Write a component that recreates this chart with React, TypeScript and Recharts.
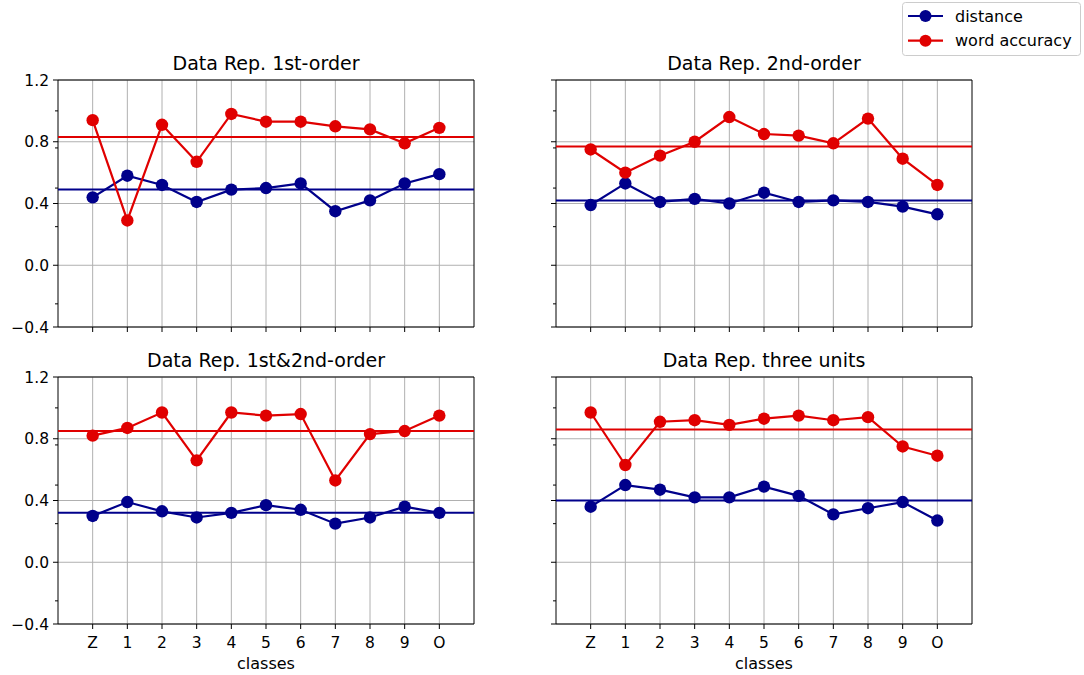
import { LineChart, Line, XAxis, YAxis, CartesianGrid, ReferenceLine, ReferenceArea } from "recharts";

const classes = ["Z", "1", "2", "3", "4", "5", "6", "7", "8", "9", "O"];

const titles = ["Data Rep. 1st-order", "Data Rep. 2nd-order", "Data Rep. 1st&2nd-order", "Data Rep. three units"];

const distance1st = [0.44, 0.58, 0.52, 0.41, 0.49, 0.5, 0.53, 0.35, 0.42, 0.53, 0.59];
const accuracy1st = [0.94, 0.29, 0.91, 0.67, 0.98, 0.93, 0.93, 0.9, 0.88, 0.79, 0.89];
const distance2nd = [0.39, 0.53, 0.41, 0.43, 0.4, 0.47, 0.41, 0.42, 0.41, 0.38, 0.33];
const accuracy2nd = [0.75, 0.6, 0.71, 0.8, 0.96, 0.85, 0.84, 0.79, 0.95, 0.69, 0.52];
const distanceBoth = [0.3, 0.39, 0.33, 0.29, 0.32, 0.37, 0.34, 0.25, 0.29, 0.36, 0.32];
const accuracyBoth = [0.82, 0.87, 0.97, 0.66, 0.97, 0.95, 0.96, 0.53, 0.83, 0.85, 0.95];
const distanceThree = [0.36, 0.5, 0.47, 0.42, 0.42, 0.49, 0.43, 0.31, 0.35, 0.39, 0.27];
const accuracyThree = [0.97, 0.63, 0.91, 0.92, 0.89, 0.93, 0.95, 0.92, 0.94, 0.75, 0.69];

const meanDistance = [0.49, 0.42, 0.32, 0.4];
const meanAccuracy = [0.83, 0.77, 0.85, 0.86];

const majorTicks = [-0.4, 0, 0.4, 0.8, 1.2];
const minorTicks = [-0.25, 0.25, 0.5, 0.76, 1.0];

const BLUE = "#00008b";
const RED = "#e00000";
const FONT = "'DejaVu Sans', sans-serif";

const PLOT_W = 416;
const PLOT_H = 247;
const Y_W = 50;

const fmt = (v: number) => v.toFixed(1).replace("-", "\u2212");

function YTick(props: any) {
  const { x, y, payload, showLabels } = props;
  const major = majorTicks.some((t) => Math.abs(t - payload.value) < 1e-6);
  return (
    <g>
      <line x1={x} x2={x - (major ? 5 : 3)} y1={y} y2={y} stroke="#000" strokeWidth={1} />
      {major && showLabels && (
        <text x={x - 9} y={y} dy={5.5} textAnchor="end" fontSize={15.5} fontFamily={FONT} fill="#000">
          {fmt(payload.value)}
        </text>
      )}
    </g>
  );
}

function XTick(props: any) {
  const { x, y, payload, showLabels } = props;
  return (
    <g>
      <line x1={x} x2={x} y1={y} y2={y + 5} stroke="#000" strokeWidth={1} />
      {showLabels && (
        <text x={x} y={y + 24} textAnchor="middle" fontSize={15.5} fontFamily={FONT} fill="#000">
          {classes[payload.value]}
        </text>
      )}
    </g>
  );
}

function Panel({ idx, left, top, distance, accuracy, xLabels, yLabels }: any) {
  const data = classes.map((c, i) => ({ i, name: c, distance: distance[i], accuracy: accuracy[i] }));
  return (
    <>
      <div
        style={{
          position: "absolute",
          left: left - 100,
          width: PLOT_W + 200,
          top: top - 26,
          textAlign: "center",
          fontFamily: FONT,
          fontSize: 19,
          lineHeight: "19px",
          color: "#000",
        }}
      >
        {titles[idx]}
      </div>
      <div style={{ position: "absolute", left: left - Y_W, top: top - 10 }}>
        <LineChart
          width={Y_W + PLOT_W + 10}
          height={10 + PLOT_H + 40}
          data={data}
          margin={{ top: 10, right: 10, bottom: 0, left: 0 }}
        >
          <CartesianGrid
            stroke="#b0b0b0"
            strokeWidth={1}
            horizontalValues={majorTicks}
            verticalValues={[0, 1, 2, 3, 4, 5, 6, 7, 8, 9, 10]}
          />
          <XAxis
            dataKey="i"
            type="number"
            domain={[-1, 11]}
            ticks={[0, 1, 2, 3, 4, 5, 6, 7, 8, 9, 10]}
            axisLine={false}
            tickLine={false}
            tickSize={0}
            tickMargin={0}
            height={40}
            interval={0}
            tick={<XTick showLabels={xLabels} />}
          />
          <YAxis
            type="number"
            domain={[-0.4, 1.2]}
            ticks={[...majorTicks, ...minorTicks].sort((a, b) => a - b)}
            axisLine={false}
            tickLine={false}
            tickSize={0}
            tickMargin={0}
            width={Y_W}
            interval={0}
            allowDataOverflow
            tick={<YTick showLabels={yLabels} />}
          />
          <ReferenceLine y={meanDistance[idx]} stroke={BLUE} strokeWidth={2} />
          <ReferenceLine y={meanAccuracy[idx]} stroke={RED} strokeWidth={2} />
          <Line
            dataKey="distance"
            stroke={BLUE}
            strokeWidth={2.2}
            dot={{ r: 6.2, fill: BLUE, stroke: BLUE, strokeWidth: 0 }}
            isAnimationActive={false}
          />
          <Line
            dataKey="accuracy"
            stroke={RED}
            strokeWidth={2.2}
            dot={{ r: 6.2, fill: RED, stroke: RED, strokeWidth: 0 }}
            isAnimationActive={false}
          />
          <ReferenceArea x1={-1} x2={11} y1={-0.4} y2={1.2} fill="none" stroke="#000" strokeWidth={1} strokeOpacity={1} />
        </LineChart>
      </div>
      {xLabels && (
        <div
          style={{
            position: "absolute",
            left,
            width: PLOT_W,
            top: top + PLOT_H + 32,
            textAlign: "center",
            fontFamily: FONT,
            fontSize: 16,
            lineHeight: "16px",
          }}
        >
          classes
        </div>
      )}
    </>
  );
}

function LegendBox() {
  const rows = [
    { label: "distance", color: BLUE },
    { label: "word accuracy", color: RED },
  ];
  return (
    <svg width={180} height={55} style={{ position: "absolute", left: 902, top: 2 }}>
      <rect x={0.5} y={0.5} width={178} height={53} rx={3} fill="#fff" stroke="#cccccc" />
      {rows.map((r, k) => (
        <g key={r.label} transform={`translate(0, ${14 + k * 24.7})`}>
          <line x1={6} x2={41} y1={0} y2={0} stroke={r.color} strokeWidth={2.2} />
          <circle cx={23.5} cy={0} r={6} fill={r.color} />
          <text x={53} y={5.5} fontSize={16} fontFamily={FONT} fill="#000">
            {r.label}
          </text>
        </g>
      ))}
    </svg>
  );
}

export default function App() {
  return (
    <div style={{ position: "absolute", left: 0, top: 0, width: 1084, height: 675, background: "#fff", overflow: "hidden" }}>
      <Panel idx={0} left={58} top={80} distance={distance1st} accuracy={accuracy1st} xLabels={false} yLabels={true} />
      <Panel idx={1} left={556} top={80} distance={distance2nd} accuracy={accuracy2nd} xLabels={false} yLabels={false} />
      <Panel idx={2} left={58} top={377} distance={distanceBoth} accuracy={accuracyBoth} xLabels={true} yLabels={true} />
      <Panel idx={3} left={556} top={377} distance={distanceThree} accuracy={accuracyThree} xLabels={true} yLabels={false} />
      <LegendBox />
    </div>
  );
}
